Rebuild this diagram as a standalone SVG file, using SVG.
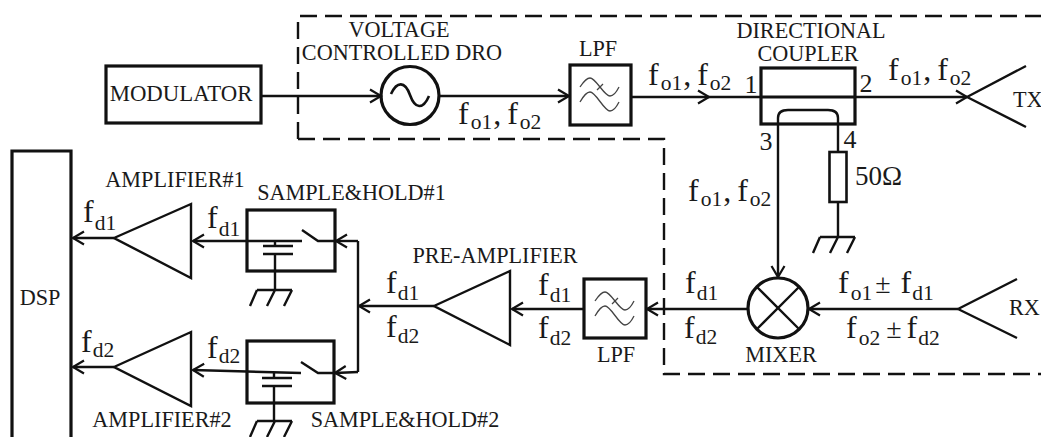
<svg xmlns="http://www.w3.org/2000/svg" width="1041" height="437" viewBox="0 0 1041 437">
<style>
text{font-family:"Liberation Serif","Times New Roman",serif;fill:#1a1a1a}
.c{font-size:22.2px}
.f{font-size:32px}
.s{font-size:21.5px}
.n{font-size:26px}
.pm{font-size:28px}
.box{fill:none;stroke:#111;stroke-width:3.2}
.thin{fill:none;stroke:#111;stroke-width:2.4}
.line{fill:none;stroke:#111;stroke-width:2.4}
.dash{fill:none;stroke:#111;stroke-width:2.4;stroke-dasharray:17 8}
.wave{fill:none;stroke:#444;stroke-width:1.3}
</style>
<defs>
<marker id="a" markerUnits="userSpaceOnUse" markerWidth="14" markerHeight="16" refX="12" refY="7" orient="auto" overflow="visible"><path d="M1 0.500L12 7L1 13.500" fill="none" stroke="#111" stroke-width="2.2"/></marker>
<g id="lpfsym"><path class="wave" d="M-20-8C-16-14-13-17-10-17C-4-17 4 1 10 1C13 1 16-2 19-8"/><path class="wave" d="M-20 7C-16 0-13-3-10-3C-4-3 4 16 10 16C13 16 16 13 19 7"/><path class="wave" d="M-3-5L3-11"/></g>
<g id="gnd"><path class="thin" d="M-18 0H17M-18 0L-25 16M0 0L-8 16M17 0L9 16"/></g>
</defs>
<g id="boundary"><path class="dash" d="M298 139V16H1041M298 139H664V374H1041"/></g>
<g id="connectors">
<path class="line" d="M261 96H381" marker-end="url(#a)"/>
<path class="line" d="M439 96H569" marker-end="url(#a)"/>
<path class="line" d="M631 97H709" marker-end="url(#a)"/>
<path class="line" d="M709 97H761"/>
<path class="line" d="M855 97H967" marker-end="url(#a)"/>
<path class="line" d="M778 124V277" marker-end="url(#a)"/>
<path class="line" d="M838 124V152M838 202V237"/>
<path class="line" d="M958 309H809" marker-end="url(#a)"/>
<path class="line" d="M748 309H647" marker-end="url(#a)"/>
<path class="line" d="M584 309H512" marker-end="url(#a)"/>
<path class="line" d="M434 306H359" marker-end="url(#a)"/>
<path class="line" d="M358 241V372"/>
<path class="line" d="M358 241H336" marker-end="url(#a)"/>
<path class="line" d="M358 372L335 373" marker-end="url(#a)"/>
<path class="line" d="M302 241H193" marker-end="url(#a)"/>
<path class="line" d="M301 373L193 370" marker-end="url(#a)"/>
<path class="line" d="M114 238H73" marker-end="url(#a)"/>
<path class="line" d="M114 367H73" marker-end="url(#a)"/>
</g>
<g id="modulator"><rect class="box" x="106" y="66" width="155" height="57"/><text x="181" y="101" text-anchor="middle" style="font-size:22.8px">MODULATOR</text></g>
<g id="dro"><circle class="box" cx="410" cy="95.500" r="29"/><path class="box" style="stroke-width:2.6" d="M391 94C397 81 405 81 410 95S423 110 429 96"/>
<text class="c" x="399" y="37" text-anchor="middle">VOLTAGE</text><text class="c" x="402" y="60" text-anchor="middle">CONTROLLED DRO</text></g>
<g id="lpf1"><rect class="box" x="570" y="65" width="61" height="60"/><use href="#lpfsym" x="600" y="95"/><text class="c" x="598" y="56" text-anchor="middle">LPF</text></g>
<g id="coupler"><rect class="box" x="761" y="68" width="94" height="56"/><path class="line" style="stroke-width:3" d="M761 97H855"/><path class="line" d="M778 124V118Q778 110 788 110H828Q838 110 838 118V124"/>
<text class="c" x="811" y="38" text-anchor="middle">DIRECTIONAL</text><text class="c" x="808" y="61" text-anchor="middle">COUPLER</text>
<text class="n" x="751" y="93" text-anchor="middle">1</text><text class="n" x="866" y="92" text-anchor="middle">2</text><text class="n" x="766" y="150" text-anchor="middle">3</text><text class="n" x="850" y="148" text-anchor="middle">4</text></g>
<g id="tx"><path class="line" d="M967 97L1026 66M967 97L1026 127"/><text class="c" x="1013" y="107">TX</text></g>
<g id="load"><rect class="box" style="stroke-width:2.6" x="829.500" y="152" width="17" height="50"/><text x="855" y="185" style="font-size:27px">50Ω</text><use href="#gnd" x="838" y="237"/></g>
<g id="mixer"><circle class="box" cx="778" cy="308" r="30"/><path class="line" d="M757 287L799 329M799 287L757 329"/><text class="c" x="781" y="362" text-anchor="middle">MIXER</text></g>
<g id="rx"><path class="line" d="M958 309L1017 279M958 309L1017 338"/><text class="c" x="1009" y="315">RX</text></g>
<g id="lpf2"><rect class="box" x="584" y="279" width="62" height="59"/><use href="#lpfsym" x="615" y="309"/><text class="c" x="616" y="362" text-anchor="middle">LPF</text></g>
<g id="preamp"><path class="thin" d="M434 306L510 271V345Z"/><text class="c" x="495" y="263" text-anchor="middle">PRE-AMPLIFIER</text></g>
<g id="sh1"><rect class="box" x="247" y="210" width="88" height="61"/><path class="line" d="M335 241H318L302 230M263 246H293M263 254H293M275 241V246M275 254V290"/><use href="#gnd" x="275" y="290"/><text class="c" x="351.500" y="200" text-anchor="middle">SAMPLE&amp;HOLD#1</text></g>
<g id="sh2"><rect class="box" x="247" y="341" width="87" height="62"/><path class="line" d="M334 373H318L301 362M262 378H292M262 386H292M274 373V378M274 386V421"/><use href="#gnd" x="275" y="421"/><text class="c" x="405" y="427" text-anchor="middle">SAMPLE&amp;HOLD#2</text></g>
<g id="amp1"><path class="thin" d="M114 238L191 204V278Z"/><text class="c" x="175" y="187" text-anchor="middle">AMPLIFIER#1</text></g>
<g id="amp2"><path class="thin" d="M114 367L191 332V406Z"/><text class="c" x="162" y="427" text-anchor="middle">AMPLIFIER#2</text></g>
<g id="dsp"><path class="box" d="M12 437V151H71V437"/><text class="c" x="40" y="305" text-anchor="middle">DSP</text></g>
<g id="labels">
<text class="f" x="648" y="85">f<tspan class="s" dx="2" dy="5">o1</tspan><tspan dx="1" dy="-5">,</tspan><tspan dx="6">f</tspan><tspan class="s" dx="2" dy="5">o2</tspan></text>
<text class="f" x="888" y="80">f<tspan class="s" dx="2" dy="5">o1</tspan><tspan dx="1" dy="-5">,</tspan><tspan dx="6">f</tspan><tspan class="s" dx="2" dy="5">o2</tspan></text>
<text class="f" x="458" y="124">f<tspan class="s" dx="2" dy="5">o1</tspan><tspan dx="1" dy="-5">,</tspan><tspan dx="6">f</tspan><tspan class="s" dx="2" dy="5">o2</tspan></text>
<text class="f" x="688" y="201">f<tspan class="s" dx="2" dy="5">o1</tspan><tspan dx="1" dy="-5">,</tspan><tspan dx="6">f</tspan><tspan class="s" dx="2" dy="5">o2</tspan></text>
<text class="f" x="838" y="293">f<tspan class="s" dx="2" dy="7">o1</tspan><tspan class="pm" dx="3" dy="-7">±</tspan><tspan dx="10">f</tspan><tspan class="s" dx="1" dy="7">d1</tspan></text>
<text class="f" x="846" y="338">f<tspan class="s" dx="2" dy="7">o2</tspan><tspan class="pm" dx="6" dy="-7">±</tspan><tspan dx="5">f</tspan><tspan class="s" dx="1" dy="7">d2</tspan></text>
<text class="f" x="685" y="293">f<tspan class="s" dx="1" dy="7">d1</tspan></text>
<text class="f" x="684" y="338">f<tspan class="s" dx="1" dy="6">d2</tspan></text>
<text class="f" x="538" y="295">f<tspan class="s" dx="1" dy="7">d1</tspan></text>
<text class="f" x="538" y="338">f<tspan class="s" dx="1" dy="7">d2</tspan></text>
<text class="f" x="386" y="293">f<tspan class="s" dx="1" dy="7">d1</tspan></text>
<text class="f" x="386" y="337">f<tspan class="s" dx="1" dy="6">d2</tspan></text>
<text class="f" x="207" y="228">f<tspan class="s" dx="1" dy="8">d1</tspan></text>
<text class="f" x="207" y="358">f<tspan class="s" dx="1" dy="5">d2</tspan></text>
<text class="f" x="83" y="222">f<tspan class="s" dx="1" dy="8">d1</tspan></text>
<text class="f" x="81" y="352">f<tspan class="s" dx="1" dy="5">d2</tspan></text>
</g>
</svg>
